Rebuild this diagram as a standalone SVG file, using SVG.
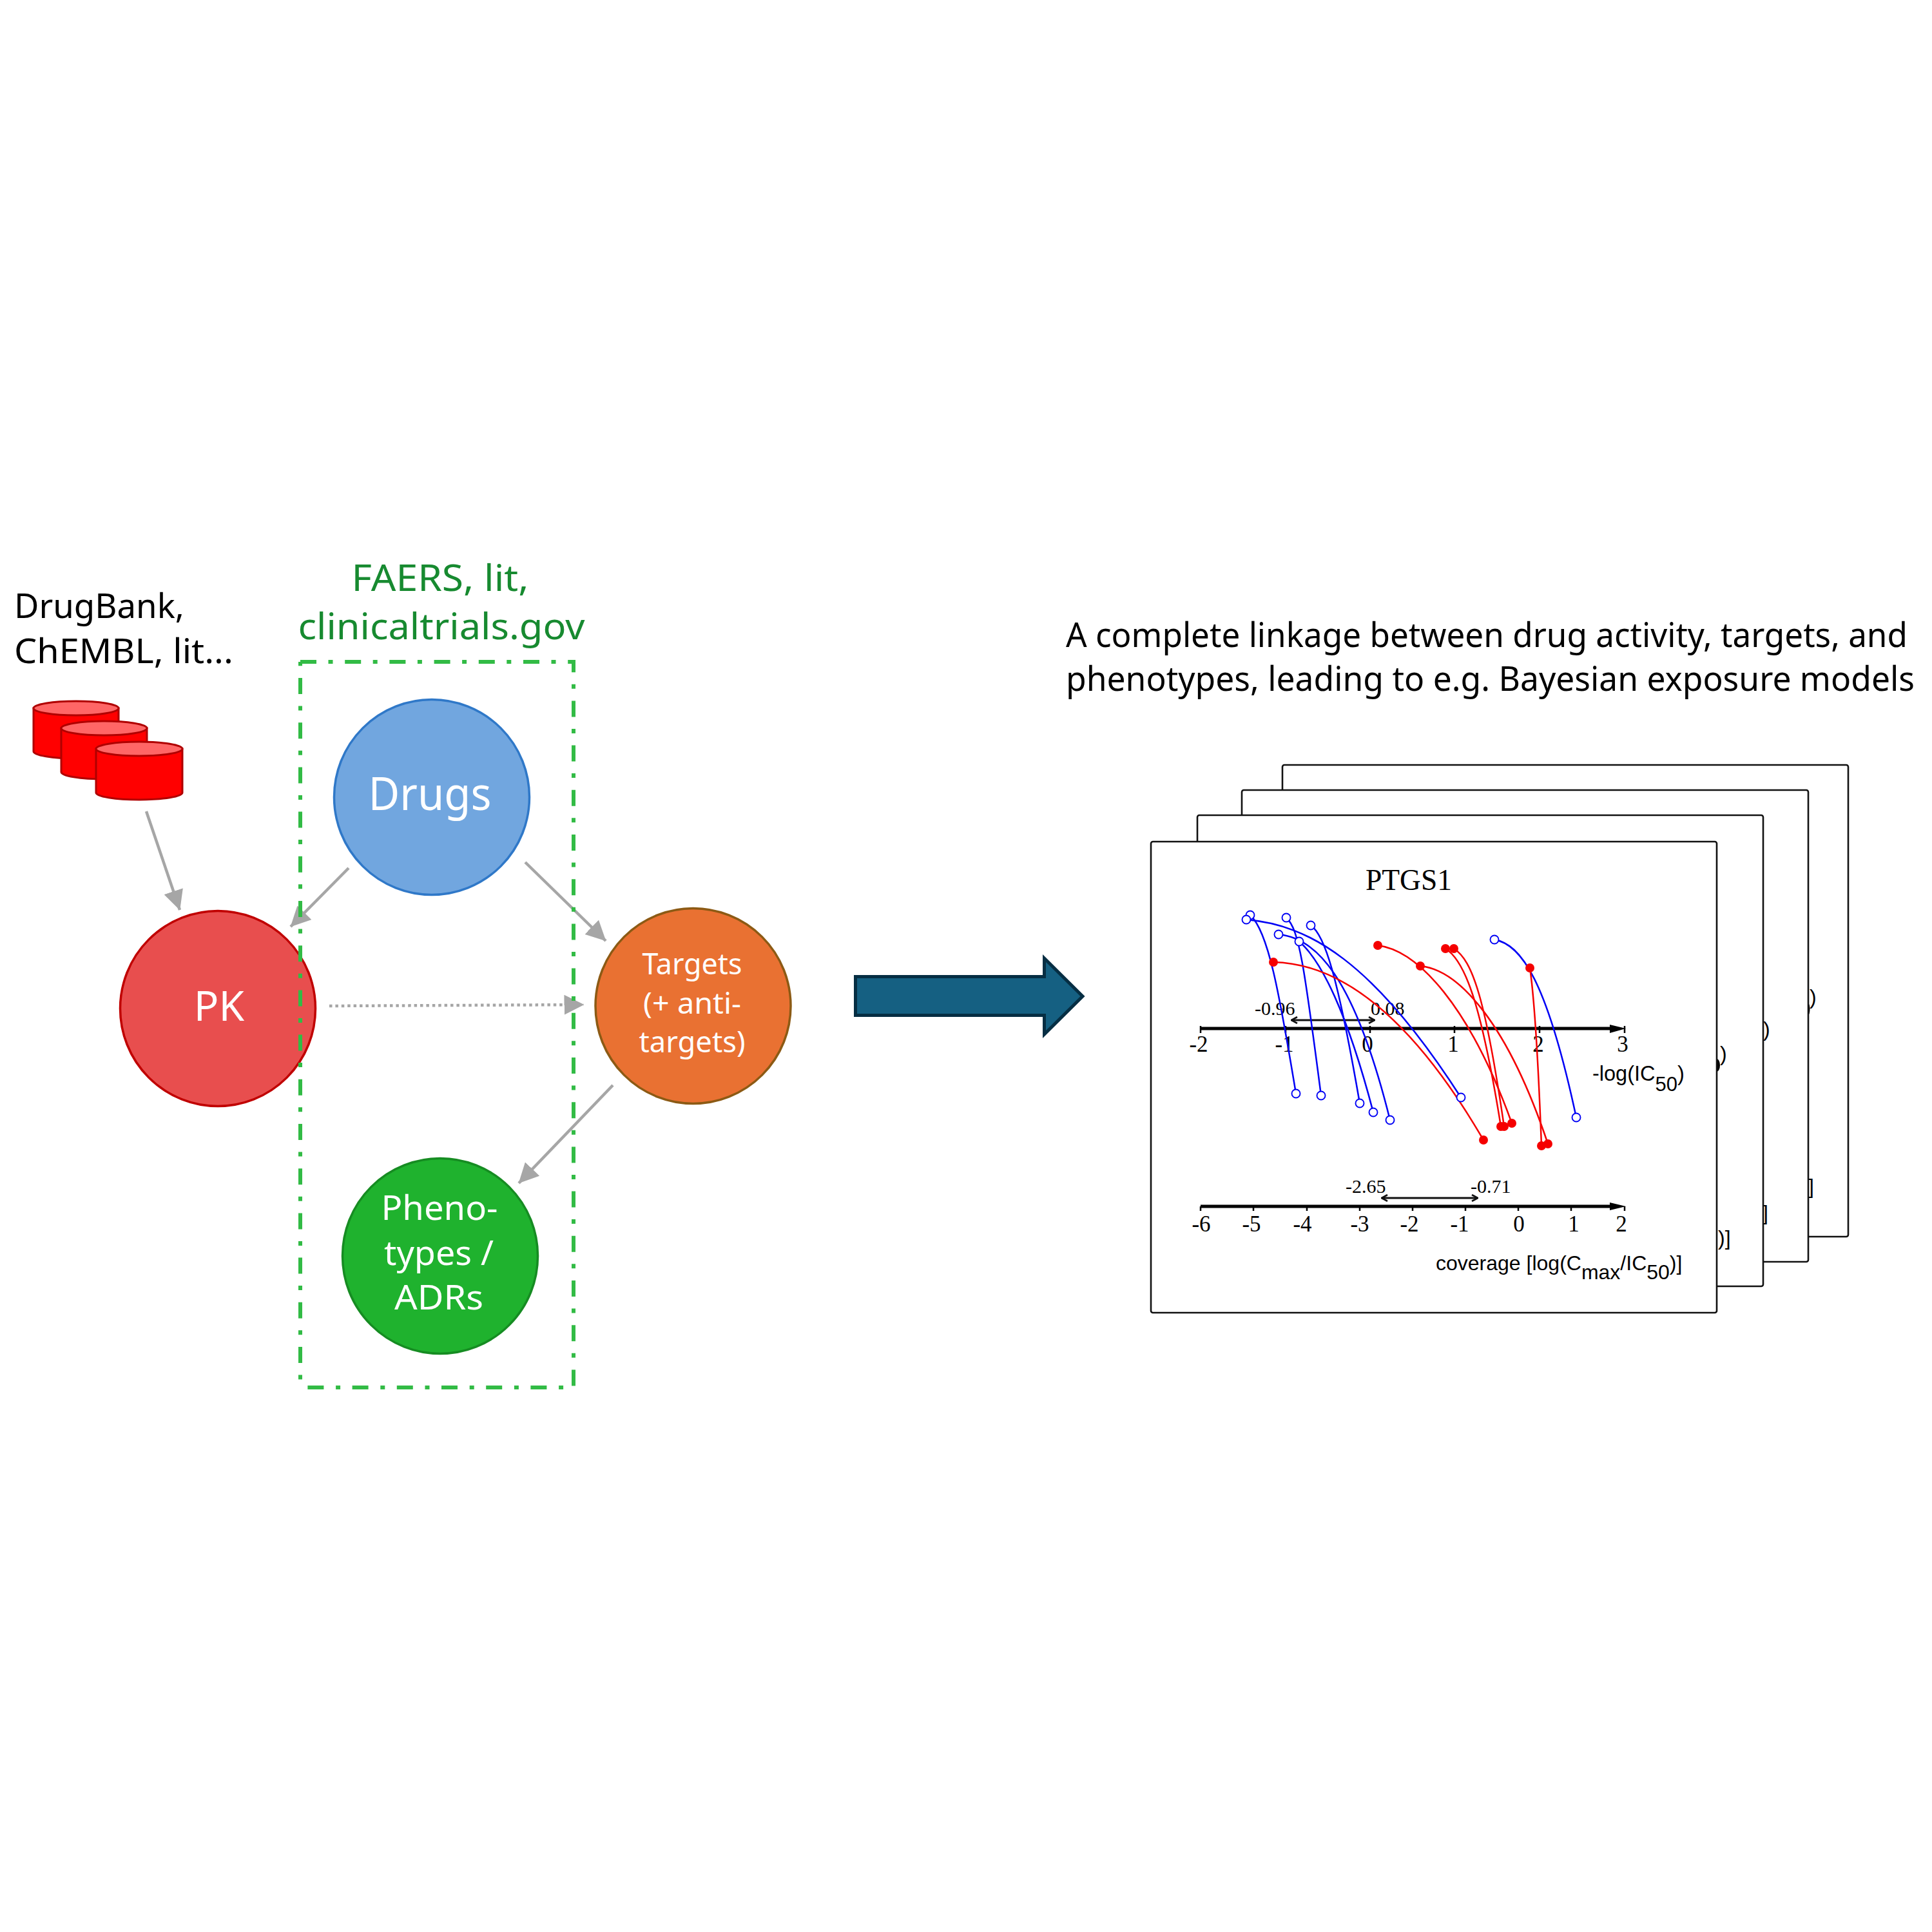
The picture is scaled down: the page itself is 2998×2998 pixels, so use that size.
<svg xmlns="http://www.w3.org/2000/svg" width="2998" height="2998" viewBox="0 0 2998 2998">
<style>
.s{font-family:"Noto Sans","Liberation Sans",sans-serif}
.a{font-family:"Liberation Sans",Arial,sans-serif;fill:#000}
.t{font-family:"Liberation Serif","Times New Roman",serif;fill:#000}
.n{font-size:35px;text-anchor:middle}
.v{font-size:30px}
.w{fill:#fff;text-anchor:middle}
.card{fill:#fff;stroke:#111;stroke-width:2.6}
.conn{fill:none;stroke:#a6a6a6;stroke-width:4.500;marker-end:url(#gh)}
.ax{stroke:#000;stroke-width:5;fill:none}
.tk{stroke:#000;stroke-width:2.5}
.dbl{stroke:#111;stroke-width:3;marker-start:url(#bh);marker-end:url(#bh)}
.b{fill:none;stroke:#0000f5;stroke-width:2.5}
.r{fill:none;stroke:#f50000;stroke-width:2.5}
.bo{fill:#fff;stroke:#0000f5;stroke-width:1.900}
.ro{fill:#f50000}
.cyl{fill:#f00;stroke:#b00000;stroke-width:3}
.cap{fill:#ff6666;stroke:#b00000;stroke-width:3}
.g{fill-opacity:.025}
.fr{fill:none;stroke:#32bb45;stroke-width:6}
</style>
<defs>
<marker id="gh" markerUnits="userSpaceOnUse" viewBox="0 0 31 31" refX="30.500" refY="15.500" markerWidth="31" markerHeight="31" orient="auto"><path d="M0 0L31 15.500L0 31Z" fill="#a6a6a6"/></marker>
<marker id="bh" markerUnits="userSpaceOnUse" viewBox="0 0 12 12" refX="11" refY="6" markerWidth="12" markerHeight="12" orient="auto-start-reverse"><path d="M2 1L11 6L2 11" fill="none" stroke="#111" stroke-width="2.6"/></marker>
</defs>

<g id="source-labels">
<text class="s" x="22" y="959" font-size="52" fill="#000" textLength="264" lengthAdjust="spacingAndGlyphs">DrugBank,</text>
<text class="s" x="22" y="1029" font-size="52" fill="#000" textLength="340" lengthAdjust="spacingAndGlyphs">ChEMBL, lit...</text>
<text class="s" x="683" y="917" font-size="56" fill="#178a30" text-anchor="middle" textLength="275" lengthAdjust="spacingAndGlyphs">FAERS, lit,</text>
<text class="s" x="685" y="992" font-size="56" fill="#178a30" text-anchor="middle" textLength="445" lengthAdjust="spacingAndGlyphs">clinicaltrials.gov</text>
<text class="s" x="1654" y="1004" font-size="52" fill="#000" textLength="1306" lengthAdjust="spacingAndGlyphs">A complete linkage between drug activity, targets, and</text>
<text class="s" x="1654" y="1072" font-size="52" fill="#000" textLength="1317" lengthAdjust="spacingAndGlyphs">phenotypes, leading to e.g. Bayesian exposure models</text>
</g>

<g id="node-databases">
<path class="cyl" d="M52 1099V1166A66 11 0 0 0 184 1166V1099Z"/><ellipse class="cap" cx="118" cy="1099" rx="66" ry="11"/>
<path class="cyl" d="M95 1130V1198A66 11 0 0 0 228 1198V1130Z"/><ellipse class="cap" cx="161.500" cy="1130" rx="66.500" ry="11"/>
<path class="cyl" d="M149 1162V1230A67 11 0 0 0 283 1230V1162Z"/><ellipse class="cap" cx="216" cy="1162" rx="67" ry="11"/>
</g>

<g id="node-drugs">
<circle cx="670" cy="1237" r="151.500" fill="#71a6df" stroke="#2f78c8" stroke-width="3.500"/>
<text class="s w" x="667" y="1257" font-size="72" textLength="191" lengthAdjust="spacingAndGlyphs">Drugs</text>
</g>
<g id="node-pk">
<circle cx="338" cy="1565" r="151.500" fill="#e84e4e" stroke="#c00000" stroke-width="3.500"/>
<text class="s w" x="340" y="1584" font-size="64">PK</text>
</g>
<g id="node-targets">
<circle cx="1075.500" cy="1561" r="151.500" fill="#e97132" stroke="#8c5a14" stroke-width="3.500"/>
<text class="s w" x="1074" y="1512" font-size="46" textLength="155" lengthAdjust="spacingAndGlyphs">Targets</text>
<text class="s w" x="1074" y="1573" font-size="46" textLength="152" lengthAdjust="spacingAndGlyphs">(+ anti-</text>
<text class="s w" x="1074" y="1633" font-size="46" textLength="165" lengthAdjust="spacingAndGlyphs">targets)</text>
</g>
<g id="node-phenotypes">
<circle cx="683" cy="1949" r="151.500" fill="#1fb22e" stroke="#168c22" stroke-width="3.500"/>
<text class="s w" x="682" y="1893" font-size="52" textLength="181" lengthAdjust="spacingAndGlyphs">Pheno-</text>
<text class="s w" x="681" y="1963" font-size="52" textLength="170" lengthAdjust="spacingAndGlyphs">types /</text>
<text class="s w" x="681" y="2032" font-size="52" textLength="138" lengthAdjust="spacingAndGlyphs">ADRs</text>
</g>

<g id="connectors">
<line class="conn" x1="227" y1="1259" x2="279" y2="1412"/>
<line class="conn" x1="541" y1="1347" x2="451" y2="1438"/>
<line class="conn" x1="815" y1="1338" x2="940" y2="1460"/>
<line class="conn" x1="511" y1="1561" x2="906" y2="1559" stroke-dasharray="4.500 4.900"/>
<line class="conn" x1="951" y1="1684" x2="805" y2="1836"/>
</g>

<g id="frame">
<path class="fr" d="M466 1027H890V2153H466" stroke-dasharray="25 18.500 7 18.700"/>
<path class="fr" d="M466 1027V2153" stroke-dasharray="25 18.500 7 18.700" stroke-dashoffset="44.200"/>
</g>

<path id="big-arrow" d="M1327.500 1515.500H1620.500V1487L1680 1546L1620.500 1605V1575.500H1327.500Z" fill="#156082" stroke="#062e43" stroke-width="5"/>

<g id="card-4">
<rect class="card" x="1990" y="1187" width="878" height="732" rx="3"/>
<ellipse cx="2806" cy="1566" rx="2.500" ry="9"/>
<text class="a" font-size="32" x="2808" y="1558">)</text>
<text class="a" font-size="32" x="2806" y="1852">]</text>
</g>
<g id="card-3">
<rect class="card" x="1927" y="1226" width="879" height="732" rx="3"/>
<text class="a" font-size="32" x="2736" y="1608">)</text>
<text class="a" font-size="32" x="2735" y="1893">]</text>
</g>
<g id="card-2">
<rect class="card" x="1858" y="1265" width="878" height="731" rx="3"/>
<ellipse cx="2664" cy="1653" rx="5" ry="10"/>
<text class="a" font-size="32" x="2669" y="1646">)</text>
<text class="a" font-size="32" x="2666" y="1932">)]</text>
</g>
<g id="card-1">
<rect class="card" x="1786" y="1306" width="878" height="731" rx="3"/>
<text class="t" x="2119" y="1381" font-size="45.500">PTGS1</text>

<path class="ax" d="M1863 1596H2505"/>
<path d="M2498 1590L2523 1596L2498 1603Z"/>
<path class="tk" d="M1863 1592V1603M1995 1592V1603M2126 1592V1603M2257 1592V1603M2389 1592V1603M2521 1592V1603"/>
<g class="t n">
<text x="1860" y="1632">-2</text><text x="1993" y="1632">-1</text><text x="2122" y="1632">0</text><text x="2255" y="1632">1</text><text x="2387" y="1632">2</text><text x="2518" y="1632">3</text>
</g>
<line class="dbl" x1="2004" y1="1583" x2="2133" y2="1583"/>
<text class="t v" x="1947" y="1575">-0.96</text>
<text class="t v" x="2127" y="1575">0.08</text>
<text class="a" font-size="32.500" y="1677" x="2471">-log(IC<tspan font-size="31" y="1693">50</tspan><tspan y="1677">)</tspan></text>

<path class="ax" d="M1863 1872H2505"/>
<path d="M2498 1866L2523 1872L2498 1878Z"/>
<path class="tk" d="M1863 1872V1879M1945 1872V1879M2028 1872V1879M2110 1872V1879M2192 1872V1879M2274 1872V1879M2356 1872V1879M2438 1872V1879M2521 1872V1879"/>
<g class="t n">
<text x="1864" y="1911">-6</text><text x="1942" y="1911">-5</text><text x="2021" y="1911">-4</text><text x="2110" y="1911">-3</text><text x="2187" y="1911">-2</text><text x="2265" y="1911">-1</text><text x="2357" y="1911">0</text><text x="2442" y="1911">1</text><text x="2516" y="1911">2</text>
</g>
<line class="dbl" x1="2144" y1="1859" x2="2293" y2="1859"/>
<text class="t v" x="2088" y="1851">-2.65</text>
<text class="t v" x="2282" y="1851">-0.71</text>
<text class="a" font-size="32" y="1971" x="2228">coverage [log(C<tspan y="1985">max</tspan><tspan y="1971">/IC</tspan><tspan y="1985">50</tspan><tspan y="1971">)]</tspan></text>

<g id="curves-blue">
<path class="b" d="M1940 1420C1968 1445 1985 1540 2011 1697"/>
<path class="b" d="M1934 1427C2030 1435 2130 1490 2267 1703"/>
<path class="b" d="M1996 1424C2016 1442 2024 1500 2050 1700"/>
<path class="b" d="M2034 1436C2055 1450 2075 1510 2110 1712"/>
<path class="b" d="M1984 1450C2040 1455 2100 1510 2157 1738"/>
<path class="b" d="M2016 1461C2050 1490 2090 1570 2131 1726"/>
<path class="b" d="M2319 1458C2360 1465 2400 1520 2446 1734"/>
</g>
<g id="curves-red">
<path class="r" d="M1976 1493C2070 1495 2180 1560 2302 1769"/>
<path class="r" d="M2138 1467C2200 1475 2280 1560 2346 1743"/>
<path class="r" d="M2204 1499C2265 1505 2340 1590 2402 1775"/>
<path class="r" d="M2243 1472C2272 1490 2297 1550 2329 1748"/>
<path class="r" d="M2256 1472C2285 1490 2305 1550 2334 1748"/>
<path class="r" d="M2374 1502Q2384 1570 2392 1778"/>
</g>
<g id="points-red" class="ro">
<circle cx="1976" cy="1493" r="7"/><circle cx="2302" cy="1769" r="7"/>
<circle cx="2138" cy="1467" r="7"/><circle cx="2346" cy="1743" r="7"/>
<circle cx="2204" cy="1499" r="7"/><circle cx="2402" cy="1775" r="7"/>
<circle cx="2243" cy="1472" r="7"/><circle cx="2329" cy="1748" r="7"/>
<circle cx="2256" cy="1472" r="7"/><circle cx="2334" cy="1748" r="7"/>
<circle cx="2374" cy="1502" r="7"/><circle cx="2392" cy="1778" r="7"/>
</g>
<g id="points-blue" class="bo">
<circle cx="1940" cy="1420" r="6.500"/><circle cx="2011" cy="1697" r="6.500"/>
<circle cx="1934" cy="1427" r="6.500"/><circle cx="2267" cy="1703" r="6.500"/>
<circle cx="1996" cy="1424" r="6.500"/><circle cx="2050" cy="1700" r="6.500"/>
<circle cx="2034" cy="1436" r="6.500"/><circle cx="2110" cy="1712" r="6.500"/>
<circle cx="1984" cy="1450" r="6.500"/><circle cx="2157" cy="1738" r="6.500"/>
<circle cx="2016" cy="1461" r="6.500"/><circle cx="2131" cy="1726" r="6.500"/>
<circle cx="2319" cy="1458" r="6.500"/><circle cx="2446" cy="1734" r="6.500"/>
</g>
</g>

<g id="faint-titles">
<text class="t g" x="2325" y="1258" font-size="44">PTGS1</text>
<text class="t g" x="2273" y="1303" font-size="44">ADRB1</text>
<text class="t g" x="2198" y="1335" font-size="45">HTR2A</text>
</g>
</svg>
